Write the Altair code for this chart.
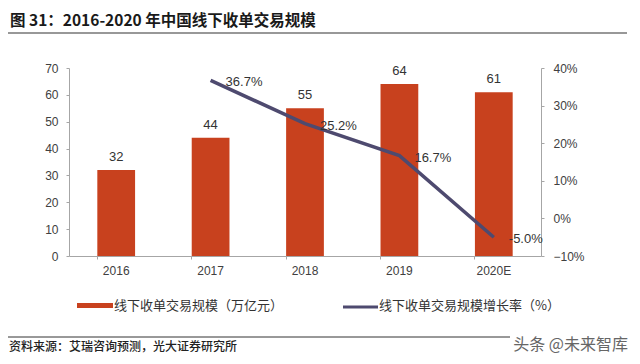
import altair as alt
import pandas as pd

years = ["2016", "2017", "2018", "2019", "2020E"]
volume = [32, 44, 55, 64, 61]
growth_years = ["2017", "2018", "2019", "2020E"]
growth = [0.367, 0.252, 0.167, -0.050]

bar_color = "#c8411e"
line_color = "#4e4a6f"
axis_color = "#a6a6a6"
label_color = "#404040"
NUM_FONT = "Liberation Sans"
CJK_FONT = "Noto Sans CJK SC"

bars_df = pd.DataFrame({"year": years, "volume": volume})
line_df = pd.DataFrame({"year": growth_years, "growth": growth,
                        "label": [f"{g*100:.1f}%" for g in growth]})

x_scale = alt.Scale(domain=years, paddingInner=0.6, paddingOuter=0.3)
x_axis = alt.Axis(title=None, labelAngle=0, labelFont=NUM_FONT, labelFontSize=12,
                  labelColor=label_color, domainColor=axis_color, tickColor=axis_color,
                  tickSize=3, bandPosition=0, labelPadding=6)

def xe():
    return alt.X("year:N", scale=x_scale, sort=years, axis=x_axis)

left_scale = alt.Scale(domain=[0, 70], nice=False)
left_axis = alt.Axis(title=None, values=list(range(0, 71, 10)), grid=False,
                     labelOverlap=False, labelFlush=False,
                     labelFont=NUM_FONT, labelFontSize=12, labelColor=label_color,
                     domainColor=axis_color, tickColor=axis_color, tickSize=3,
                     labelPadding=8)
bars = alt.Chart(bars_df).mark_bar(color=bar_color).encode(
    x=xe(),
    y=alt.Y("volume:Q", scale=left_scale, axis=left_axis),
)
bar_text = alt.Chart(bars_df).mark_text(font=NUM_FONT, fontSize=13, color="#333333",
                                         dy=-13, baseline="middle").encode(
    x=xe(),
    y=alt.Y("volume:Q", scale=left_scale, axis=left_axis),
    text="volume:Q",
)
left = alt.layer(bars, bar_text)

right_scale = alt.Scale(domain=[-0.1, 0.4], nice=False)
right_axis = alt.Axis(title=None, orient="right", format=".0%",
                      values=[-0.1, 0, 0.1, 0.2, 0.3, 0.4], grid=False,
                      labelOverlap=False, labelFlush=False,
                      labelFont=NUM_FONT, labelFontSize=12, labelColor=label_color,
                      domainColor=axis_color, tickColor=axis_color, tickSize=3,
                      labelPadding=9)
line = alt.Chart(line_df).mark_line(color=line_color, strokeWidth=3.5).encode(
    x=xe(),
    y=alt.Y("growth:Q", scale=right_scale, axis=right_axis),
)
line_text = alt.Chart(line_df).mark_text(font=NUM_FONT, fontSize=13, color="#333333",
                                          align="left", dx=15, dy=2).encode(
    x=xe(),
    y=alt.Y("growth:Q", scale=right_scale, axis=right_axis),
    text="label:N",
)
right = alt.layer(line, line_text)

# decorations (title, rules, legend, source)
title = alt.Chart(pd.DataFrame({"t": ["图 31：2016-2020 年中国线下收单交易规模"]})).mark_text(
    font=CJK_FONT, fontSize=15.5, fontWeight="bold", color="#1a1a1a", align="left", baseline="middle"
).encode(x=alt.value(-59), y=alt.value(-47), text="t:N")
title_rule = alt.Chart(pd.DataFrame({"a": [0]})).mark_rule(color="#333333", strokeWidth=1.2).encode(
    x=alt.value(-61), x2=alt.value(558), y=alt.value(-35))

leg_bar = alt.Chart(pd.DataFrame({"a": [0]})).mark_rect(color=bar_color).encode(
    x=alt.value(8), x2=alt.value(44), y=alt.value(235), y2=alt.value(240))
leg_bar_text = alt.Chart(pd.DataFrame({"t": ["线下收单交易规模（万亿元）"]})).mark_text(
    font=CJK_FONT, fontSize=13, color="#333333", align="left", baseline="middle"
).encode(x=alt.value(45), y=alt.value(238), text="t:N")
leg_line = alt.Chart(pd.DataFrame({"a": [0]})).mark_rule(color=line_color, strokeWidth=3).encode(
    x=alt.value(274), x2=alt.value(309), y=alt.value(239))
leg_line_text = alt.Chart(pd.DataFrame({"t": ["线下收单交易规模增长率（%）"]})).mark_text(
    font=CJK_FONT, fontSize=13, color="#333333", align="left", baseline="middle"
).encode(x=alt.value(310), y=alt.value(238), text="t:N")

src_rule = alt.Chart(pd.DataFrame({"a": [0]})).mark_rule(color="#333333", strokeWidth=1).encode(
    x=alt.value(-61), x2=alt.value(441), y=alt.value(269))
src_text = alt.Chart(pd.DataFrame({"t": ["资料来源：艾瑞咨询预测，光大证券研究所"]})).mark_text(
    font=CJK_FONT, fontSize=12, fontWeight=500, color="#222222", align="left", baseline="middle"
).encode(x=alt.value(-60), y=alt.value(279), text="t:N")
watermark = alt.Chart(pd.DataFrame({"t": ["头条 @未来智库"]})).mark_text(
    font=CJK_FONT, fontSize=16, color="#666666", align="right", baseline="middle"
).encode(x=alt.value(559), y=alt.value(277), text="t:N")

chart = alt.layer(
    left, right, title, title_rule, leg_bar, leg_bar_text, leg_line, leg_line_text,
    src_rule, src_text, watermark
).resolve_scale(y="independent").properties(
    width=472, height=188,
    padding={"left": 61, "top": 60, "right": 91, "bottom": 100},
    autosize=alt.AutoSizeParams(type="none"),
).configure_view(stroke=None)

chart.save("out.html", embed_options={"renderer": "svg", "actions": False})
